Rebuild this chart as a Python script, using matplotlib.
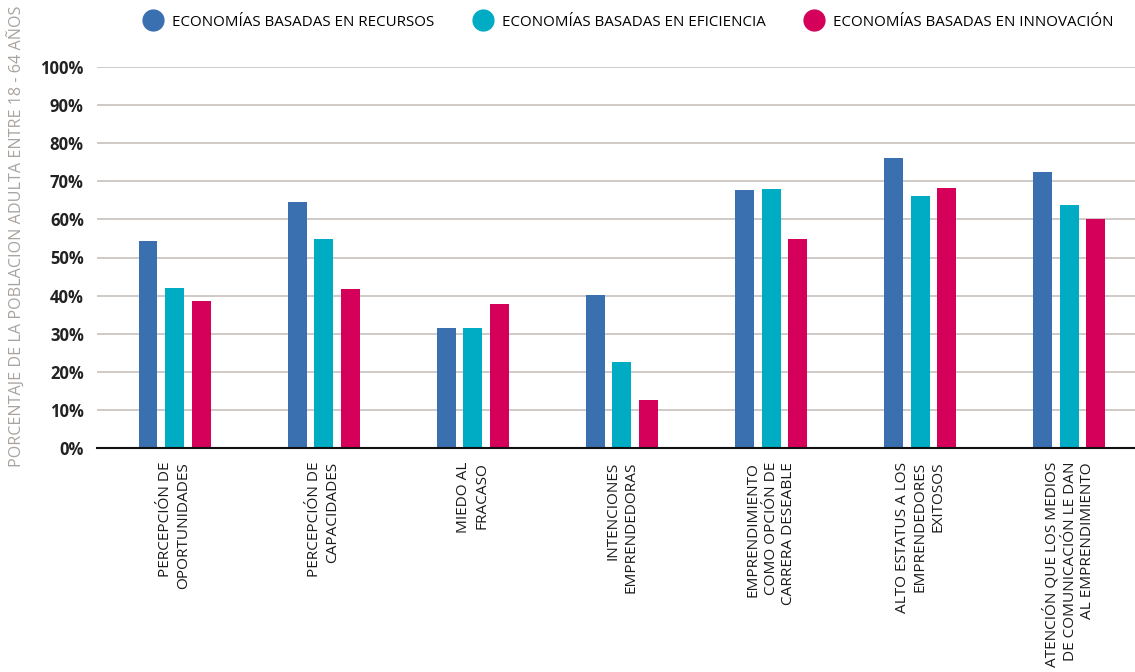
import matplotlib
matplotlib.use("Agg")
import matplotlib.pyplot as plt
from matplotlib.lines import Line2D
import numpy as np

plt.rcParams['font.family'] = ['Open Sans', 'DejaVu Sans']

categories = [
    "PERCEPCIÓN DE\nOPORTUNIDADES",
    "PERCEPCIÓN DE\nCAPACIDADES",
    "MIEDO AL\nFRACASO",
    "INTENCIONES\nEMPRENDEDORAS",
    "EMPRENDIMIENTO\nCOMO OPCIÓN DE\nCARRERA DESEABLE",
    "ALTO ESTATUS A LOS\nEMPRENDEDORES\nEXITOSOS",
    "ATENCIÓN QUE LOS MEDIOS\nDE COMUNICACIÓN LE DAN\nAL EMPRENDIMIENTO",
]
series_names = [
    "ECONOMÍAS BASADAS EN RECURSOS",
    "ECONOMÍAS BASADAS EN EFICIENCIA",
    "ECONOMÍAS BASADAS EN INNOVACIÓN",
]
recursos = [54.3, 64.6, 31.5, 40.2, 67.7, 76.1, 72.4]
eficiencia = [42.0, 54.9, 31.5, 22.6, 68.0, 66.1, 63.8]
innovacion = [38.6, 41.7, 37.8, 12.5, 54.9, 68.2, 60.1]
colors = ["#3A70B0", "#00ABC4", "#D4005A"]
yticks = [0, 10, 20, 30, 40, 50, 60, 70, 80, 90, 100]

fig = plt.figure(figsize=(11.35, 6.72), dpi=100)
ax = fig.add_axes([97 / 1135, 1 - 448 / 672, 1 - 97 / 1135, (448 - 67) / 672])

x = np.arange(len(categories))
w = 0.127
off = 0.178
for i, (vals, c) in enumerate(zip([recursos, eficiencia, innovacion], colors)):
    ax.bar(x + (i - 1) * off, vals, width=w, color=c, zorder=3)

ax.set_xlim(-0.52, 6.44)
ax.set_ylim(0, 100)
ax.set_yticks(yticks)
ax.set_yticklabels([f"{t}%" for t in yticks], fontsize=12, fontweight='bold', color='#222222')
ax.yaxis.grid(True, color='#CBC6C0', linewidth=1.3, zorder=0)
ax.tick_params(axis='y', length=0, pad=9.5)
ax.tick_params(axis='x', length=0, pad=10)
ax.set_xticks(x)
ax.set_xticklabels(categories, rotation=90, fontsize=11.1, color='#1a1a1a',
                   va='top', ha='center', multialignment='right', linespacing=1.25)
for s in ['top', 'right', 'left']:
    ax.spines[s].set_visible(False)
ax.spines['bottom'].set_color('#111111')
ax.spines['bottom'].set_linewidth(1.5)
ax.spines['bottom'].set_zorder(4)

fig.text(17 / 1135, 1 - 236 / 672, "PORCENTAJE DE LA POBLACION ADULTA ENTRE 18 - 64 AÑOS",
         rotation=90, ha='center', va='center', fontsize=11.6, color='#A8A39E')

handles = [Line2D([], [], marker='o', linestyle='', markersize=15, color=c) for c in colors]
fig.legend(handles, series_names, loc='center', bbox_to_anchor=(629 / 1135, 1 - 22 / 672),
           ncol=3, frameon=False, fontsize=10.9, handletextpad=0.65, columnspacing=2.6,
           handlelength=1.2)

fig.savefig("out.png", dpi=100)
